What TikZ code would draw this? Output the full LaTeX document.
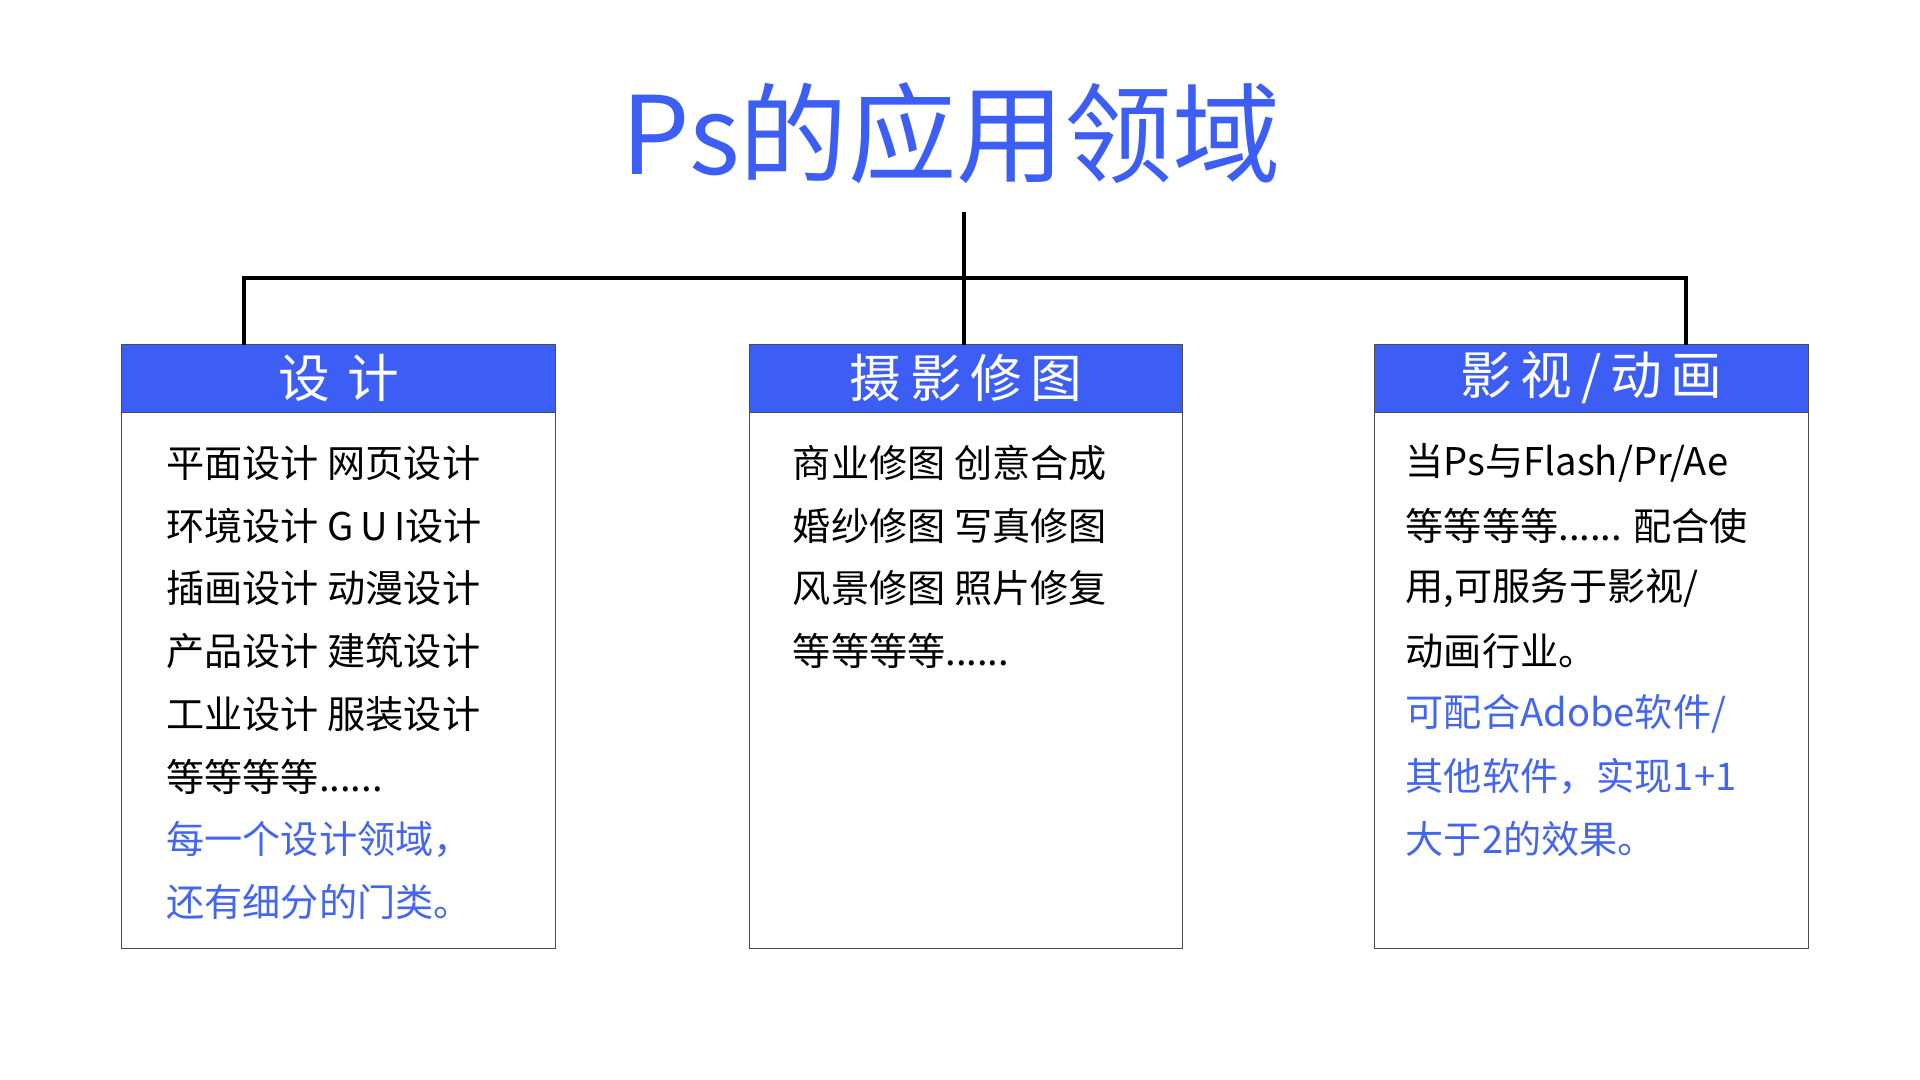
\documentclass[tikz,border=0pt]{standalone}
\usepackage{fontspec}
\usetikzlibrary{calc}
\setmainfont{Noto Sans CJK SC}
\definecolor{hb}{HTML}{3D5EF5}
\definecolor{tb}{HTML}{4466EE}
\begin{document}
\begin{tikzpicture}[x=1pt,y=-1pt,
  conn/.style={line width=3pt},
  panel/.style={draw=black!70,line width=0.8pt},
  head/.style={fill=hb,draw=black!70,line width=0.8pt},
  htxt/.style={text=white,font=\fontsize{42}{46}\selectfont,anchor=center},
  btxt/.style={anchor=west,font=\fontsize{31}{36}\selectfont,inner sep=0pt},
  btxtb/.style={btxt,text=tb}]
\useasboundingbox (0,0) rectangle (1560,877.5);
\node[text=hb,font=\fontsize{88}{96}\selectfont] (title) at (773,108) {Ps的应用领域};
\foreach \n/\x in {a/99,b/609,c/1117}{
  \draw[panel] (\x,280) rectangle ++(352,491);
  \draw[head] (\x,280) rectangle ++(352,55);
}
\coordinate (top) at (783,172);
\coordinate (hl) at (198,226);
\coordinate (hr) at (1370,226);
\draw[conn] (top) -- (783,280);
\draw[conn] (198,280) -- (hl) -- (hr) -- (1370,280);
\node[htxt] (ha) at (275,307) {设\,\,计};
\node[htxt] (hb2) at (785,307) {摄\,影\,修\,图};
\node[htxt] (hc) at (1293,307) {影\,视\,/\,动\,画};
% left
\node[btxt] (l1) at (135,376) {平面设计 网页设计};
\node[btxt] (l2) at (135,427) {环境设计 G\,U\,I设计};
\node[btxt] (l3) at (135,478) {插画设计 动漫设计};
\node[btxt] (l4) at (135,529) {产品设计 建筑设计};
\node[btxt] (l5) at (135,580) {工业设计 服装设计};
\node[btxt] (l6) at (135,631) {等等等等......};
\node[btxtb] (l7) at (135,682) {每一个设计领域，};
\node[btxtb] (l8) at (135,733) {还有细分的门类。};
% middle
\node[btxt] (m1) at (644,376) {商业修图 创意合成};
\node[btxt] (m2) at (644,427) {婚纱修图 写真修图};
\node[btxt] (m3) at (644,478) {风景修图 照片修复};
\node[btxt] (m4) at (644,529) {等等等等......};
% right
\node[btxt] (r1) at (1142,376) {当Ps与Flash/Pr/Ae};
\node[btxt] (r2) at (1142,427) {等等等等...... 配合使};
\node[btxt] (r3) at (1142,478) {用,可服务于影视/};
\node[btxt] (r4) at (1142,529) {动画行业。};
\node[btxtb] (r5) at (1142,580) {可配合Adobe软件/};
\node[btxtb] (r6) at (1142,631) {其他软件，实现1+1};
\node[btxtb] (r7) at (1142,682) {大于2的效果。};
\end{tikzpicture}
\end{document}
